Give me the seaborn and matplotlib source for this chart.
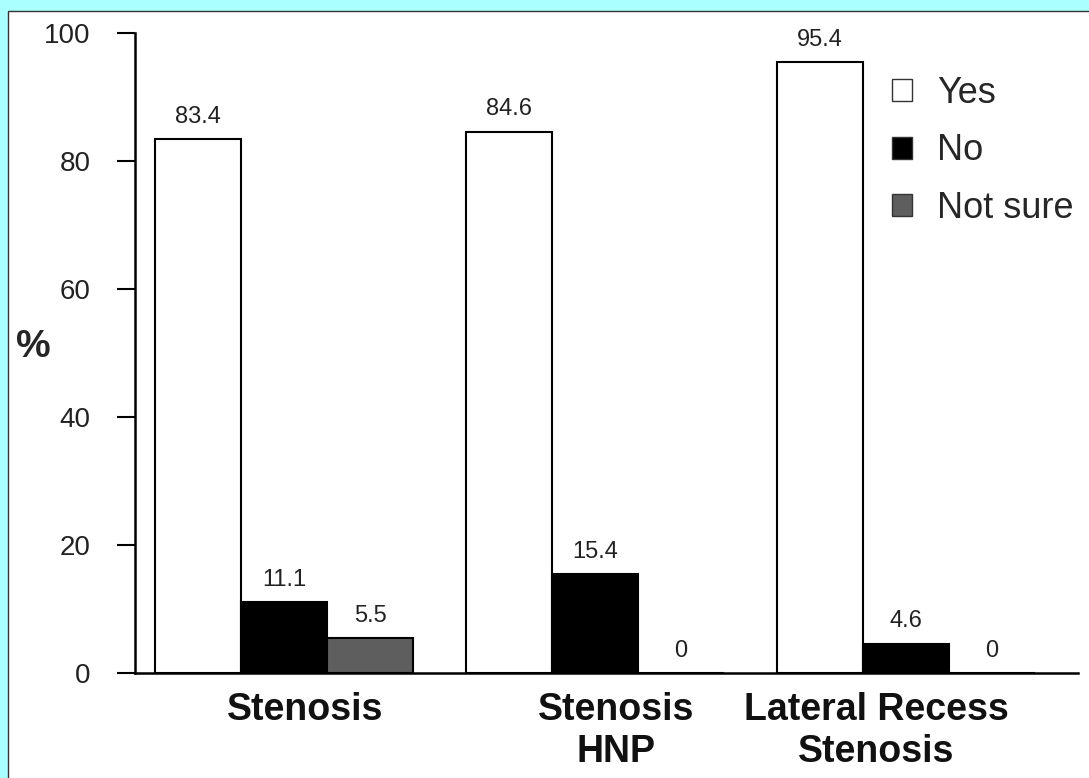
import numpy as np
import pandas as pd
import seaborn as sns
import matplotlib.pyplot as plt
from matplotlib.patches import Rectangle
from matplotlib.transforms import ScaledTranslation

groups = ["Stenosis", "Stenosis\nHNP", "Lateral Recess\nStenosis"]
answers = ["Yes", "No", "Not sure"]
yes = [83.4, 84.6, 95.4]
no = [11.1, 15.4, 4.6]
not_sure = [5.5, 0, 0]
yticks = [0, 20, 40, 60, 80, 100]

df = pd.DataFrame({
    "group": groups * 3,
    "answer": np.repeat(answers, len(groups)),
    "pct": yes + no + not_sure,
})

sns.set_style("ticks")
plt.rcParams["font.family"] = ["Liberation Sans", "DejaVu Sans"]

dpi = 100
W, H = 1089, 778
fig = plt.figure(figsize=(W / dpi, H / dpi), dpi=dpi, facecolor="#aaffff")
# white scanned page inside the cyan frame
fig.add_artist(Rectangle((8 / W, -0.01), 1.0, (H - 11) / H + 0.01,
                         transform=fig.transFigure, facecolor="white",
                         edgecolor="#333333", lw=1, zorder=0))

ax = fig.add_axes([135 / W, 1 - 673 / H, (1078 - 135) / W, 640 / H])
ax.set_facecolor("none")

sns.barplot(data=df, x="group", y="pct", hue="answer", hue_order=answers,
            palette=["white", "black", "#5e5e5e"], saturation=1,
            edgecolor="black", linewidth=1.5, width=0.83, ax=ax)

for cont in ax.containers:
    vals = cont.datavalues
    ax.bar_label(cont, labels=[f"{v:g}" for v in vals], padding=8,
                 fontsize=17, color="#222222")

ax.set_xlim(-0.479, 2.553)
ax.set_ylim(0, 100)
ax.set_yticks(yticks)
ax.set_yticklabels([str(t) for t in yticks], fontsize=20, color="#222222")
ax.tick_params(axis="y", length=13, width=1.5, pad=19, color="black")
ax.tick_params(axis="x", length=0, pad=14)
ax.set_xticks(range(len(groups)))
ax.set_xticklabels(groups, fontsize=27, fontweight="bold", color="#111111")
# category labels in the scan are not exactly centred on their groups
for lab, dx in zip(ax.get_xticklabels(), (21, 21, -30)):
    lab.set_transform(lab.get_transform() + ScaledTranslation(dx / dpi, 0, fig.dpi_scale_trans))

ax.set_xlabel("")
ax.set_ylabel("%", rotation=0, fontsize=28, fontweight="bold", va="center")
ax.yaxis.set_label_coords((33 - 135) / (1078 - 135), 0.51)

sns.despine(ax=ax)
for s in ("left", "bottom"):
    ax.spines[s].set_linewidth(1.8)
    ax.spines[s].set_color("black")

leg = ax.legend(loc="upper left", bbox_to_anchor=(874 / W, 1 - 58 / H),
                bbox_transform=fig.transFigure, frameon=False, fontsize=26,
                handlelength=0.55, handleheight=0.55, handletextpad=0.7,
                labelspacing=0.62, borderpad=0)
for h in leg.legend_handles:
    h.set_linewidth(1.0)
    h.set_edgecolor("#333333")

fig.savefig("out.png", dpi=dpi, facecolor=fig.get_facecolor())
